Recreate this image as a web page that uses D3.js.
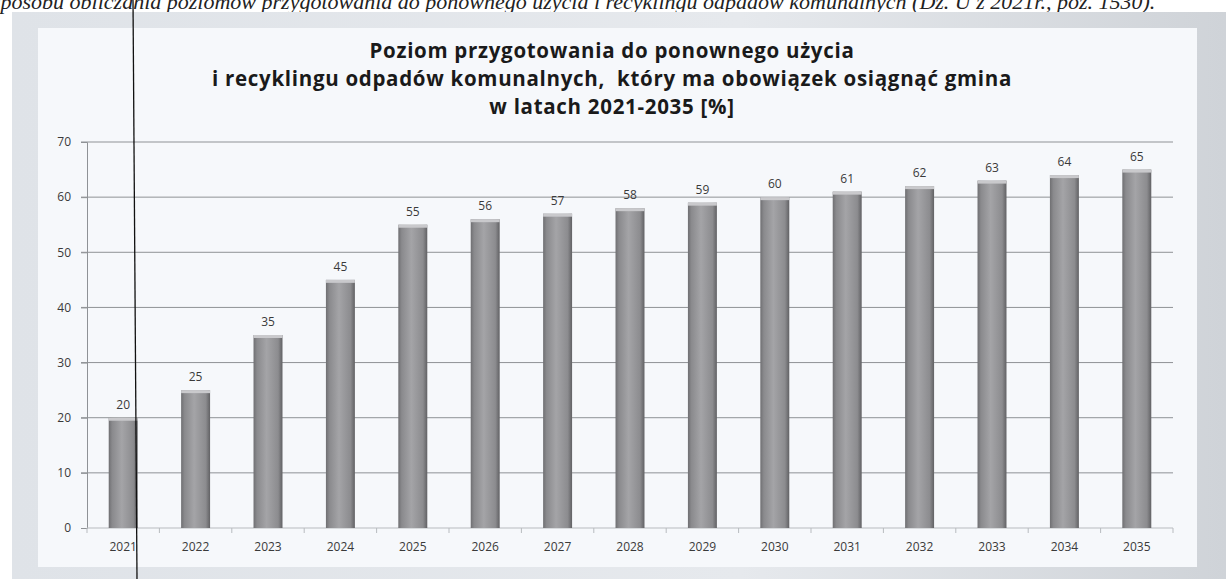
<!DOCTYPE html>
<html>
<head>
<meta charset="utf-8">
<script src="https://cdn.jsdelivr.net/npm/d3@7"></script>
<style>
  body { margin: 0; background: #fff; }
  svg { display: block; }
</style>
</head>
<body>
<div id="chart"></div>
<script>
// data
const years = ["2021", "2022", "2023", "2024", "2025", "2026", "2027", "2028",
               "2029", "2030", "2031", "2032", "2033", "2034", "2035"];
const levels = [20, 25, 35, 45, 55, 56, 57, 58, 59, 60, 61, 62, 63, 64, 65];
const yTicks = [0, 10, 20, 30, 40, 50, 60, 70];
const titleLines = [
    "Poziom przygotowania do ponownego użycia",
    "i recyklingu odpadów komunalnych,  który ma obowiązek osiągnąć gmina",
    "w latach 2021-2035 [%]"
];
const pageText = "sposobu obliczania poziomów przygotowania do ponownego użycia i recyklingu odpadów komunalnych (Dz. U z 2021r., poz. 1530).";

const width = 1226;
const height = 579;
const plot = { left: 87, right: 1173, top: 142, bottom: 528 };

const svg = d3.select("#chart")
    .append("svg")
    .attr("width", width)
    .attr("height", height);

// gradients for the scanned frame and the cylinder-ish bars
const defs = svg.append("defs");
const barGrad = defs.append("linearGradient")
    .attr("id", "barGrad")
    .attr("x1", "0%").attr("x2", "100%")
    .attr("y1", "0%").attr("y2", "0%");
barGrad.append("stop").attr("offset", "0%").attr("stop-color", "#6f6f72");
barGrad.append("stop").attr("offset", "12%").attr("stop-color", "#8a8a8d");
barGrad.append("stop").attr("offset", "45%").attr("stop-color", "#a4a4a7");
barGrad.append("stop").attr("offset", "85%").attr("stop-color", "#8c8c8f");
barGrad.append("stop").attr("offset", "100%").attr("stop-color", "#616164");

const frameGrad = defs.append("linearGradient")
    .attr("id", "frameGrad")
    .attr("x1", "0%").attr("x2", "100%")
    .attr("y1", "0%").attr("y2", "0%");
frameGrad.append("stop").attr("offset", "0%").attr("stop-color", "#dfe3e8");
frameGrad.append("stop").attr("offset", "60%").attr("stop-color", "#e6e9ed");
frameGrad.append("stop").attr("offset", "100%").attr("stop-color", "#cfd3d8");

// page text cut off at the top of the scan
svg.append("text")
    .attr("x", -8)
    .attr("y", 9)
    .attr("font-family", "Liberation Serif, serif")
    .attr("font-style", "italic")
    .attr("font-size", 22)
    .attr("fill", "#222")
    .text(pageText);

// gray frame + white chart area
svg.append("rect")
    .attr("x", 12).attr("y", 12)
    .attr("width", width - 12).attr("height", height - 12)
    .attr("fill", "url(#frameGrad)");
svg.append("rect")
    .attr("x", 38).attr("y", 28)
    .attr("width", 1197 - 38).attr("height", 567 - 28)
    .attr("fill", "#f6f8fb");

// title
svg.append("g")
    .selectAll("text")
    .data(titleLines)
    .join("text")
    .attr("x", 612)
    .attr("y", (d, i) => 58 + i * 28)
    .attr("text-anchor", "middle")
    .attr("font-family", "Open Sans, sans-serif")
    .attr("font-weight", "bold")
    .attr("font-size", 20.5)
    .attr("letter-spacing", 0.7)
    .attr("fill", "#1a1a1a")
    .style("white-space", "pre")
    .text(d => d);

// scales
const x = d3.scaleBand()
    .domain(years)
    .range([plot.left, plot.right])
    .paddingInner(0.6)
    .paddingOuter(0.3);
const xOuter = d3.scaleBand()
    .domain(years)
    .range([plot.left, plot.right]);
const y = d3.scaleLinear()
    .domain([0, 70])
    .range([plot.bottom, plot.top]);

// gridlines
svg.append("g")
    .selectAll("line")
    .data(yTicks.filter(d => d > 0))
    .join("line")
    .attr("x1", plot.left - 6)
    .attr("x2", plot.right)
    .attr("y1", d => y(d))
    .attr("y2", d => y(d))
    .attr("stroke", "#8f9296")
    .attr("stroke-width", 1);

// y axis
const yAxis = svg.append("g")
    .attr("transform", `translate(${plot.left},0)`)
    .call(d3.axisLeft(y).tickValues(yTicks).tickSize(6).tickPadding(10));
yAxis.select(".domain").attr("stroke", "#8f9296");
yAxis.selectAll(".tick line").attr("stroke", "#8f9296");
yAxis.selectAll("text")
    .attr("font-family", "Open Sans, sans-serif")
    .attr("font-size", 12)
    .attr("fill", "#3a3a3a");

// x axis
svg.append("line")
    .attr("x1", plot.left).attr("x2", plot.right)
    .attr("y1", plot.bottom).attr("y2", plot.bottom)
    .attr("stroke", "#b8bbbf");
svg.append("g")
    .selectAll("line")
    .data(years.map(d => xOuter(d)).concat([plot.right]))
    .join("line")
    .attr("x1", d => d).attr("x2", d => d)
    .attr("y1", plot.bottom).attr("y2", plot.bottom + 5)
    .attr("stroke", "#b8bbbf");
svg.append("g")
    .selectAll("text")
    .data(years)
    .join("text")
    .attr("x", d => xOuter(d) + xOuter.bandwidth() / 2)
    .attr("y", plot.bottom + 23)
    .attr("text-anchor", "middle")
    .attr("font-family", "Open Sans, sans-serif")
    .attr("font-size", 12)
    .attr("fill", "#3a3a3a")
    .text(d => d);

// bars
const bars = svg.append("g")
    .selectAll("g")
    .data(years.map((d, i) => ({ year: d, value: levels[i] })))
    .join("g");

bars.append("rect")
    .attr("x", d => x(d.year))
    .attr("y", d => y(d.value))
    .attr("width", x.bandwidth())
    .attr("height", d => y(0) - y(d.value))
    .attr("fill", "url(#barGrad)");

// lighter top cap
bars.append("rect")
    .attr("x", d => x(d.year))
    .attr("y", d => y(d.value))
    .attr("width", x.bandwidth())
    .attr("height", 3)
    .attr("fill", "#c9c9cc");

bars.append("text")
    .attr("x", d => x(d.year) + x.bandwidth() / 2)
    .attr("y", d => y(d.value) - 9)
    .attr("text-anchor", "middle")
    .attr("font-family", "Open Sans, sans-serif")
    .attr("font-size", 12)
    .attr("fill", "#3a3a3a")
    .text(d => d.value);

// pen line across the scanned page
svg.append("line")
    .attr("x1", 133).attr("y1", 0)
    .attr("x2", 137).attr("y2", height)
    .attr("stroke", "#111")
    .attr("stroke-width", 1.3);
</script>
</body>
</html>
